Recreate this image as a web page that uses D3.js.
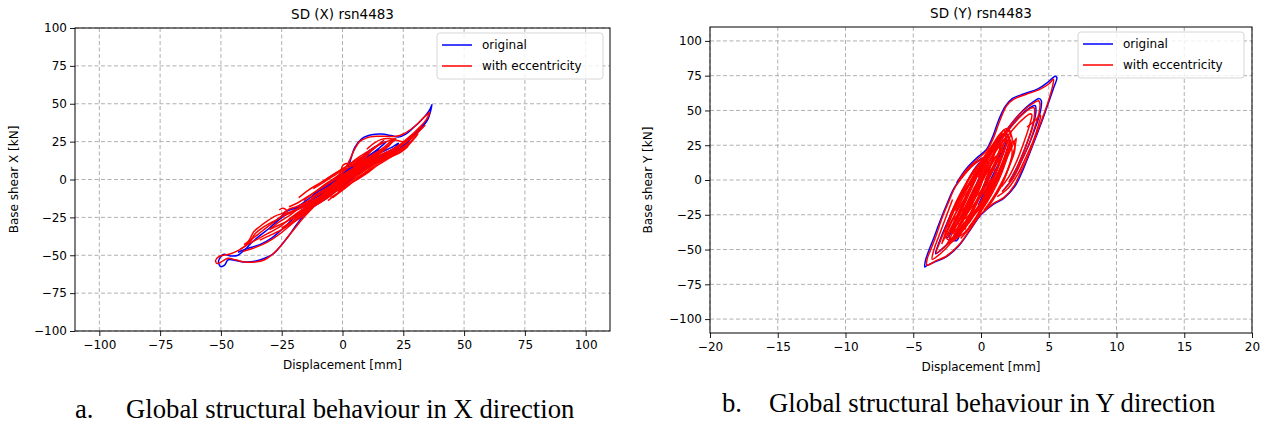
<!DOCTYPE html>
<html>
<head>
<meta charset="utf-8">
<script src="https://cdn.jsdelivr.net/npm/d3@7"></script>
<style>
  body { margin: 0; background: #fff; }
  text { font-family: "DejaVu Sans", sans-serif; fill: #000; }
</style>
</head>
<body>
<svg id="fig" width="1267" height="425"></svg>
<script>

// tick values for both panels
var xTicksX = [-100, -75, -50, -25, 0, 25, 50, 75, 100];
var yTicksX = [-100, -75, -50, -25, 0, 25, 50, 75, 100];
var xTicksY = [-20, -15, -10, -5, 0, 5, 10, 15, 20];
var yTicksY = [-100, -75, -50, -25, 0, 25, 50, 75, 100];

var seriesNames = ["original", "with eccentricity"];
var seriesColors = ["#0000ff", "#ff0000"];

var origX = [
  [[-3,-6],[0,0],[2,6],[3.5,14],[5,21],[8,27],[12,29.5],[16,30],[20,29],[23,28],[26,30],[29,34],[32,38.5],[34.5,43],[36,46.5],[36.8,49.5],[36.2,45],[35.2,40],[33.5,36],[31,32],[28,27.5],[25.5,23.5],[23,19.5],[20.5,17],[17,15],[13,11],[9,7],[5,2],[1,-3],[-3,-8],[-7,-13]],
  [[-7,-13],[-11,-17],[-15,-22],[-19,-30],[-22,-37],[-25,-43],[-28,-48.5],[-32,-52],[-36,-54],[-40,-54.5],[-44,-53.5],[-47,-53],[-48.5,-56.5],[-50.1,-57.5],[-51,-54],[-49,-49.5],[-46,-50.5],[-43,-50],[-40,-46],[-37,-41],[-34,-37],[-30,-32],[-26,-26],[-23,-21],[-19,-18.5],[-15,-14],[-10,-8],[-5,-3],[-1,2],[2,6]],
  [[-43,-48],[-39,-45.5],[-34,-43],[-29,-38.5],[-25,-33],[-21,-27],[-17,-21],[-13,-16],[-9,-12],[-5,-8],[0,-3],[5,3],[10,9],[14,13],[18,16.5],[21,18.5],[24,21],[27,25],[30,30],[33,35.5],[35,40]],
  [[-20,-20],[-16,-17],[-12,-13],[-8,-9],[-4,-4],[0,1],[4,6],[7,10],[10,14],[13,18],[16,22],[18,25],[15,23],[11,19],[7,13],[3,7],[-1,1],[-5,-5],[-9,-10],[-13,-14],[-17,-19]],
  [[-28,-29],[-24,-24],[-20,-20.5],[-16,-18],[-12,-16],[-8,-12],[-4,-8],[0,-5],[3,-1],[5,1]],
  [[-12,-10],[-8,-5],[-4,-1],[0,4],[4,8],[8,11],[12,15],[16,18],[20,21],[23,24],[21,20],[17,17],[13,13],[9,9],[5,5],[1,0],[-3,-5],[-7,-10],[-11,-14]],
  [[-16,-18],[-12,-12],[-8,-7],[-4,-2],[0,3],[4,8],[8,13],[12,17],[15,20],[12,15],[8,10],[4,5],[0,0],[-4,-6],[-8,-11],[-12,-16]]
];

// SD (X) - with eccentricity
var eccX = [
  [[-4,-4],[-1,2],[1,7],[3,13],[5,20],[7,25],[10,27.5],[14,28.5],[18,28.5],[22,28.5],[25,30],[28,33],[31,37],[33.5,41],[35.3,43.5],[35.8,44.5],[35.3,42],[34,38.5],[32,35],[29.5,31],[27,27.5],[24.5,24],[22,21.5],[19,18.5],[15,15],[11,11],[7,6],[3,1],[-1,-4],[-5,-9]],
  [[-5,-9],[-9,-12],[-13,-15],[-17,-18],[-21,-21],[-24,-23],[-27,-26.5],[-30,-29],[-33,-32],[-36,-36],[-38,-41],[-40.5,-44.5],[-43,-47],[-46,-49],[-49,-50],[-51,-51],[-52.2,-53.5],[-51.5,-55.5],[-49.5,-54],[-47,-52],[-44,-53],[-40,-54.5],[-36,-54.5],[-32,-53],[-28.5,-49],[-25.5,-44],[-22.5,-38],[-19.5,-32],[-16.5,-26],[-13,-20],[-9.5,-14],[-6,-8.5],[-2,-3],[2,3]],
  [[-42,-46],[-38,-42],[-34,-38.5],[-30,-35],[-26,-31.5],[-22.5,-27],[-19,-22.5],[-15,-18],[-11,-13],[-14,-16],[-18,-19.5],[-22,-22.5],[-25.5,-25],[-29,-29],[-33,-34],[-37,-39],[-40.5,-43]],
  [[-41,-47.5],[-37,-45.5],[-33,-43],[-29,-39.5],[-25,-35],[-21,-29.5],[-17,-24],[-13,-19],[-9,-14],[-5,-9],[-1,-4]],
  [[-16,-14],[-12,-9],[-8,-4.5],[-4,0],[-1,4],[0,9],[1.5,10.5],[3,10],[5,9],[8,12],[12,16],[16,20],[19,24],[21,27],[19.5,23],[16,18],[12,13],[8,8],[4,3],[0,-2],[-4,-7],[-8,-12],[-12,-16],[-16,-20]],
  [[-20,-24],[-16,-20],[-12,-15.5],[-8,-11],[-4,-6],[0,-1],[4,4],[8,9],[12,13],[16,16.5],[20,19.5],[24,23],[27,27],[30,31],[32.5,35],[30.5,32],[27.5,27],[24,22.5],[20,18],[16,14],[12,10],[8,6],[4,2],[0,-3],[-4,-8],[-8,-13],[-12,-17],[-16,-21]],
  [[-24,-22],[-22,-19.5],[-19,-18],[-15,-15],[-11,-11],[-7,-7],[-3,-2.5],[1,2],[5,6.5],[9,10],[13,12.5],[17,14.5],[21,17],[25,21],[28,25],[25.5,22],[22,19],[18,17],[14,15],[10,13],[6,9],[2,5],[-2,1],[-6,-3],[-10,-7],[-14,-11],[-18,-15],[-22,-18]],
  [[-10,-12],[-6,-8],[-2,-3],[2,3],[6,8],[10,12],[14,16],[17,20],[15,18],[11,14],[7,10],[3,6],[-1,1],[-5,-4],[-9,-8],[-13,-12]],
  [[-2,-8],[2,-3],[6,2],[10,7],[14,12],[18,16],[22,20],[26,24.5],[30,29.5],[34,36]],
  [[-26,-20],[-24.5,-19],[-23,-20.5],[-25,-22.5],[-27.5,-24],[-31,-27.5],[-34,-31],[-36.5,-34.5],[-38,-39],[-40,-44]],
  [[-18,-12],[-14,-7],[-10,-3],[-6,1],[-2,5],[2,9],[6,14],[10,18],[14,22],[18,25],[22,27],[20,24],[16,19],[12,14],[8,9],[4,4],[0,-1],[-4,-6],[-8,-11],[-12,-16],[-16,-21],[-20,-25]],
  [[-14,-20],[-10,-16],[-6,-12],[-2,-7],[2,-2],[6,3],[10,7],[14,11],[18,14],[22,17],[26,21],[29,26],[31,30],[28,25],[25,21],[21,17.5],[17,14.5],[13,11],[9,7],[5,3],[1,-2],[-3,-7],[-7,-12]],
  [[-8,-2],[-4,3],[0,7],[4,11],[8,15],[12,19],[15,23],[17,26],[14,22],[10,16],[6,10],[2,4],[-2,-1],[-6,-6],[-10,-10]],
  [[-30,-33],[-26,-28],[-22,-24],[-18,-19],[-14,-15],[-10,-10],[-6,-6],[-2,-1],[2,3],[6,7],[10,11],[7,7],[3,2],[-1,-3],[-5,-8],[-9,-13],[-13,-18],[-17,-23],[-21,-28],[-25,-32]],
  [[-4,-12],[0,-7],[4,-2],[8,3],[12,8],[16,12],[20,15],[24,18],[27,22]],
  [[10,20],[13,24],[16,26.5],[19,27],[22,26],[25,25],[28,27],[31,31]],
  [[-22,-26],[-18,-22],[-14,-17],[-10,-12],[-6,-7],[-2,-2],[2,2],[6,6],[10,9],[14,12],[18,15],[21,18],[18,16],[14,13],[10,10],[6,7],[2,3],[-2,-3],[-6,-8],[-10,-13],[-14,-18],[-18,-23]],
  [[-12,-6],[-8,-2],[-4,2],[0,6],[4,9],[8,13],[11,17],[9,15],[5,11],[1,6],[-3,1],[-7,-3],[-11,-8]],
  [[-6,-14],[-2,-9],[2,-4],[6,0],[10,4],[14,9],[18,13],[22,17],[19,14],[15,10],[11,6],[7,2],[3,-3],[-1,-8],[-5,-12]],
  [[-34,-40],[-30,-37],[-26,-34],[-22,-30],[-18,-26],[-14,-21],[-18,-24],[-22,-27],[-26,-30],[-30,-33]]
];

// SD (Y) - original
var origY = [
  [[-1.8,-2],[-1.1,8],[-0.3,16],[0.4,22],[0.9,32],[1.3,43],[1.8,53],[2.3,58.5],[3.2,62],[4.2,65.5],[4.9,70],[5.3,73.5],[5.5,74.5],[5.6,73.5],[5.35,66],[5.0,56],[4.6,45],[4.1,32],[3.5,17],[3.0,5],[2.5,-4.5],[1.7,-13],[0.9,-17.5],[0.0,-25],[-0.8,-36],[-1.7,-48],[-2.6,-55.5],[-3.3,-58.5],[-4.0,-61.5],[-4.15,-62.5],[-4.1,-58],[-3.9,-52],[-3.5,-42],[-3.0,-29],[-2.5,-17],[-2.0,-6],[-1.4,2],[-0.7,10],[0.1,16]],
  [[1.3,27],[2.2,40],[3.2,51],[3.9,56.5],[4.3,58.5],[4.45,57],[4.4,50],[4.1,40],[3.6,27],[3.0,14],[2.4,2],[1.6,-8]],
  [[1.0,22],[2.0,36],[3.0,47],[3.7,52.5],[4.0,53.5],[4.05,49],[3.8,38],[3.3,24],[2.7,10],[2.1,-1]],
  [[-2.4,-40],[-1.8,-27],[-1.1,-12],[-0.5,0],[0.2,12],[0.9,23],[1.5,31],[1.9,33],[1.7,22],[1.2,8],[0.6,-5],[-0.1,-18],[-0.9,-30],[-1.7,-40],[-2.4,-43]],
  [[-2.7,-37],[-2.2,-25],[-1.6,-12],[-1.0,-1],[-0.4,9],[0.2,15],[0.0,5],[-0.6,-9],[-1.3,-23],[-2.0,-35],[-2.5,-42]],
  [[0,-18],[-1,-30],[-2,-41],[-2.8,-49],[-3.35,-53],[-3.1,-45],[-2.6,-33],[-2.1,-22],[-1.4,-10],[-0.6,0]],
  [[-1.4,-33],[-1.9,-40],[-2.1,-43],[-1.8,-43.5],[-1.5,-38]],
  [[-1.0,-30],[-0.4,-18],[0.2,-6],[0.8,6],[1.4,18],[1.9,27],[1.6,18],[1.0,6],[0.4,-6],[-0.2,-18]]
];

// SD (Y) - with eccentricity
var eccY = [
  [[-1.7,-1],[-1.0,8],[-0.2,15.5],[0.45,21.5],[0.95,31],[1.4,43],[1.9,53.5],[2.4,58],[3.3,61.5],[4.3,65],[5.0,69],[5.35,72.5],[5.25,66],[4.95,56],[4.55,45],[4.05,32],[3.5,18],[2.95,6],[2.45,-4],[1.7,-12.5],[0.9,-17],[0.0,-24.5],[-0.8,-35.5],[-1.7,-47.5],[-2.6,-55],[-3.3,-58],[-4.0,-61.2],[-3.95,-56],[-3.75,-51],[-3.35,-41],[-2.9,-28],[-2.4,-16],[-1.9,-5],[-1.3,3],[-0.6,10.5],[0.2,16]],
  [[1.3,27],[2.2,40],[3.2,50.5],[3.9,55.5],[4.25,57],[4.35,55],[4.3,49],[4.0,39],[3.55,26],[2.95,13],[2.35,1],[1.55,-8.5]],
  [[1.0,22],[2.0,35.5],[3.0,46.5],[3.65,51.5],[3.9,52],[3.95,47],[3.75,37],[3.25,23],[2.65,9],[2.05,-1.5]],
  [[0.9,18],[1.9,31],[2.9,42],[3.6,47.5],[3.75,47],[3.6,40],[3.2,28],[2.7,15],[2.1,3],[1.5,-5]],
  [[3.4,38],[4.0,43],[4.4,46.5],[4.25,40],[3.85,28],[3.3,16],[2.7,4],[2.0,-6],[1.2,-12]],
  [[0,-18],[-1,-30],[-2,-41],[-2.8,-49],[-3.3,-52.5],[-3.05,-45],[-2.55,-33],[-2.05,-21],[-1.35,-9],[-0.55,1]],
  [[0.5,-15],[-0.5,-25],[-1.5,-36],[-2.4,-43],[-2.65,-39],[-2.35,-28],[-1.85,-17],[-1.25,-6]],
  [[-1.2,-30],[-1.75,-37],[-2.05,-41],[-1.75,-41.5],[-1.45,-36],[-1.0,-27]],
  [[-0.5,-22],[-1.4,-35],[-2.2,-45],[-3.0,-53],[-3.6,-57],[-3.5,-51],[-3.1,-40],[-2.6,-27],[-2.1,-14]],
  [[-2.2,-38],[-1.6,-24],[-1.0,-10],[-0.4,3],[0.3,15],[1.0,26],[1.6,33],[1.9,30],[1.6,18],[1.1,5],[0.5,-8],[-0.2,-20],[-0.9,-31],[-1.7,-38],[-2.2,-38]],
  [[-2.5,-34],[-2.0,-22],[-1.4,-9],[-0.8,2],[-0.1,12],[0.6,22],[1.3,30],[1.8,34],[2.1,28],[1.9,16],[1.4,2],[0.8,-10],[0.1,-21],[-0.7,-32],[-1.5,-40],[-2.2,-42],[-2.5,-38]],
  [[-1.8,-30],[-1.2,-17],[-0.6,-4],[0,8],[0.6,18],[1.2,25],[1.5,20],[1.2,8],[0.7,-4],[0.1,-16],[-0.6,-26],[-1.3,-33],[-1.8,-30]],
  [[-1.4,-25],[-0.8,-12],[-0.2,0],[0.4,12],[1.0,22],[1.4,26],[1.2,14],[0.6,1],[0,-11],[-0.6,-22],[-1.2,-28]],
  [[-2.6,-42],[-2.0,-30],[-1.3,-16],[-0.7,-4],[-0.1,6],[0.5,16],[1.0,22],[0.7,10],[0.2,-4],[-0.4,-18],[-1.1,-30],[-1.9,-40]],
  [[-1.0,-20],[-0.4,-8],[0.2,4],[0.8,16],[1.4,28],[2.0,35],[2.3,30],[2.0,18],[1.5,6],[0.9,-6],[0.2,-16],[-0.5,-22]],
  [[-0.6,-12],[0,-2],[0.6,8],[1.1,17],[1.3,12],[0.9,2],[0.3,-8],[-0.3,-15]],
  [[-2.0,-36],[-1.5,-28],[-1.0,-20],[-0.4,-10],[0.1,0],[-0.1,-6],[-0.6,-16],[-1.2,-26],[-1.7,-34]],
  [[-2.3,-26],[-1.8,-15],[-1.2,-4],[-0.6,6],[0,12],[0.3,8],[-0.1,-2],[-0.7,-14],[-1.4,-26],[-2.0,-34]],
  [[0.0,-20],[0.6,-8],[1.2,4],[1.7,16],[2.1,26],[2.3,20],[2.0,8],[1.4,-4],[0.8,-14],[0.2,-22]],
  [[-1.2,-36],[-0.8,-26],[-0.3,-16],[0.2,-4],[0.8,8],[1.2,4],[0.7,-8],[0.1,-20],[-0.5,-30]],
  [[-0.2,2],[0.3,12],[0.9,24],[1.4,32],[1.7,36],[1.8,30],[1.4,20],[0.9,10],[0.3,0]],
  [[-2.8,-44],[-2.3,-33],[-1.7,-20],[-1.1,-8],[-0.5,3],[0.2,13],[0.8,21],[1.3,27],[1.6,24],[1.4,14],[0.9,2],[0.3,-10],[-0.4,-22],[-1.1,-33],[-1.8,-42],[-2.4,-46]],
  [[-2.0,-40],[-1.4,-28],[-0.8,-15],[-0.2,-2],[0.4,10],[1.0,20],[1.5,27],[2.0,31],[2.2,26],[1.8,14],[1.2,0],[0.6,-12],[-0.1,-24],[-0.8,-34],[-1.5,-42]],
  [[-2.4,-30],[-1.9,-20],[-1.3,-8],[-0.8,2],[-0.2,10],[0.2,16],[0.5,12],[0.2,2],[-0.3,-10],[-0.9,-22],[-1.5,-32],[-2.1,-38]],
  [[-1.6,-38],[-1.0,-28],[-0.4,-16],[0.2,-4],[0.8,8],[1.4,20],[1.9,29],[2.0,24],[1.6,12],[1.0,0],[0.4,-12],[-0.2,-24],[-0.9,-34]],
  [[-0.8,-4],[-0.3,6],[0.3,16],[0.9,26],[1.4,33],[1.9,37],[2.2,34],[1.9,26],[1.4,16],[0.8,6],[0.2,-4]],
  [[-2.5,-46],[-2.0,-36],[-1.5,-26],[-0.9,-14],[-0.4,-4],[-0.6,-14],[-1.1,-25],[-1.7,-35],[-2.2,-44]],
  [[-1.9,-22],[-1.3,-10],[-0.7,1],[-0.1,11],[0.5,19],[1.1,25],[0.9,16],[0.4,6],[-0.2,-6],[-0.8,-18],[-1.4,-28]],
  [[-0.3,-28],[0.3,-16],[0.9,-4],[1.5,8],[2.0,20],[2.4,28],[2.5,22],[2.1,10],[1.5,-4],[0.9,-14],[0.3,-22]],
  [[-2.2,-30],[-1.4,-22],[-0.6,-14],[0.2,-6],[0.9,2],[0.4,-6],[-0.4,-16],[-1.2,-26]],
  [[-1.2,-12],[-0.6,-2],[0,8],[0.6,18],[1.2,28],[1.6,30],[1.3,20],[0.7,10],[0.1,0],[-0.5,-10],[-1.1,-18]],
  [[-2.9,-46],[-2.6,-38],[-2.1,-28],[-1.5,-18],[-1.0,-10],[-1.4,-20],[-1.9,-30],[-2.4,-40]],
  [[0.4,-12],[1.0,-2],[1.6,10],[2.2,22],[2.6,30],[2.4,20],[2.0,8],[1.5,-4],[1.0,-12]]
];

var svg = d3.select("#fig");
var minus = function(d) { return d < 0 ? "\u2212" + Math.abs(d) : "" + d; };

function drawPanel(p) {
    var x = d3.scaleLinear().domain(p.xDomain).range([p.left, p.right]);
    var y = d3.scaleLinear().domain(p.yDomain).range([p.bottom, p.top]);
    var g = svg.append("g");

    // dashed grid
    g.selectAll(".gx").data(p.xTicks).enter().append("line")
        .attr("x1", d => x(d)).attr("x2", d => x(d))
        .attr("y1", p.top).attr("y2", p.bottom)
        .attr("stroke", "#b0b0b0").attr("stroke-width", 1).attr("stroke-dasharray", "4,2.5");
    g.selectAll(".gy").data(p.yTicks).enter().append("line")
        .attr("x1", p.left).attr("x2", p.right)
        .attr("y1", d => y(d)).attr("y2", d => y(d))
        .attr("stroke", "#b0b0b0").attr("stroke-width", 1).attr("stroke-dasharray", "4,2.5");

    // curves, blue first then red on top
    var clipId = "clip" + p.id;
    svg.append("clipPath").attr("id", clipId).append("rect")
        .attr("x", p.left).attr("y", p.top)
        .attr("width", p.right - p.left).attr("height", p.bottom - p.top);
    var line = d3.line().x(d => x(d[0])).y(d => y(d[1])).curve(d3.curveCatmullRom.alpha(0.5));
    var cg = g.append("g").attr("clip-path", "url(#" + clipId + ")");
    [p.orig, p.ecc].forEach(function(loops, i) {
        cg.append("g").selectAll("path").data(loops).enter().append("path")
            .attr("d", line)
            .attr("fill", "none")
            .attr("stroke", seriesColors[i])
            .attr("stroke-width", 1.5)
            .attr("stroke-linejoin", "round");
    });

    // axes
    var xAxis = d3.axisBottom(x).tickValues(p.xTicks).tickSize(5).tickSizeOuter(0).tickPadding(4).tickFormat(minus);
    var yAxis = d3.axisLeft(y).tickValues(p.yTicks).tickSize(5).tickSizeOuter(0).tickPadding(3).tickFormat(minus);
    var ax = g.append("g").attr("transform", "translate(0," + p.bottom + ")").call(xAxis);
    var ay = g.append("g").attr("transform", "translate(" + p.left + ",0)").call(yAxis);
    [ax, ay].forEach(function(a) {
        a.selectAll("text").style("font-family", "DejaVu Sans").style("font-size", "12px").attr("fill", "#000");
        a.selectAll("line").attr("stroke", "#000").attr("stroke-width", 0.9);
        a.select(".domain").remove();
    });

    // frame
    g.append("rect")
        .attr("x", p.left).attr("y", p.top)
        .attr("width", p.right - p.left).attr("height", p.bottom - p.top)
        .attr("fill", "none").attr("stroke", "#000").attr("stroke-width", 1);

    // title and labels
    g.append("text").attr("x", (p.left + p.right) / 2).attr("y", p.top - 9)
        .attr("text-anchor", "middle").style("font-size", "13.5px").text(p.title);
    g.append("text").attr("x", (p.left + p.right) / 2).attr("y", p.bottom + 38)
        .attr("text-anchor", "middle").style("font-size", "12px").text("Displacement [mm]");
    g.append("text")
        .attr("transform", "translate(" + p.yLabelX + "," + ((p.top + p.bottom) / 2) + ") rotate(-90)")
        .attr("text-anchor", "middle").style("font-size", "12px").text(p.yLabel);

    // legend
    var lg = g.append("g").attr("transform", "translate(" + p.legendX + "," + (p.top + 5) + ")");
    lg.append("rect").attr("width", 166).attr("height", 46).attr("rx", 3)
        .attr("fill", "#fff").attr("fill-opacity", 0.8)
        .attr("stroke", "#d6d6d6").attr("stroke-width", 1);
    seriesNames.forEach(function(name, i) {
        var yy = 12 + i * 21;
        lg.append("line").attr("x1", 5).attr("x2", 35).attr("y1", yy).attr("y2", yy)
            .attr("stroke", seriesColors[i]).attr("stroke-width", 1.5);
        lg.append("text").attr("x", 45).attr("y", yy + 4).style("font-size", "12px").text(name);
    });
}

drawPanel({
    id: "X", title: "SD (X) rsn4483", yLabel: "Base shear X [kN]",
    left: 75, right: 610, top: 28, bottom: 331,
    xDomain: [-110, 110], yDomain: [-100, 100],
    xTicks: xTicksX, yTicks: yTicksX,
    orig: origX, ecc: eccX, yLabelX: 18, legendX: 437
});

drawPanel({
    id: "Y", title: "SD (Y) rsn4483", yLabel: "Base shear Y [kN]",
    left: 710, right: 1252, top: 27, bottom: 333,
    xDomain: [-20, 20], yDomain: [-110, 110],
    xTicks: xTicksY, yTicks: yTicksY,
    orig: origY, ecc: eccY, yLabelX: 652, legendX: 1078
});

// figure captions
var captions = [
    {tag: "a.", text: "Global structural behaviour in X direction", x: 75, tx: 126, y: 418},
    {tag: "b.", text: "Global structural behaviour in Y direction", x: 722, tx: 769, y: 412}
];
captions.forEach(function(c) {
    svg.append("text").attr("x", c.x).attr("y", c.y)
        .style("font-family", "Liberation Serif").style("font-size", "26.7px").text(c.tag);
    svg.append("text").attr("x", c.tx).attr("y", c.y)
        .style("font-family", "Liberation Serif").style("font-size", "26.7px").text(c.text);
});

</script>
</body>
</html>
